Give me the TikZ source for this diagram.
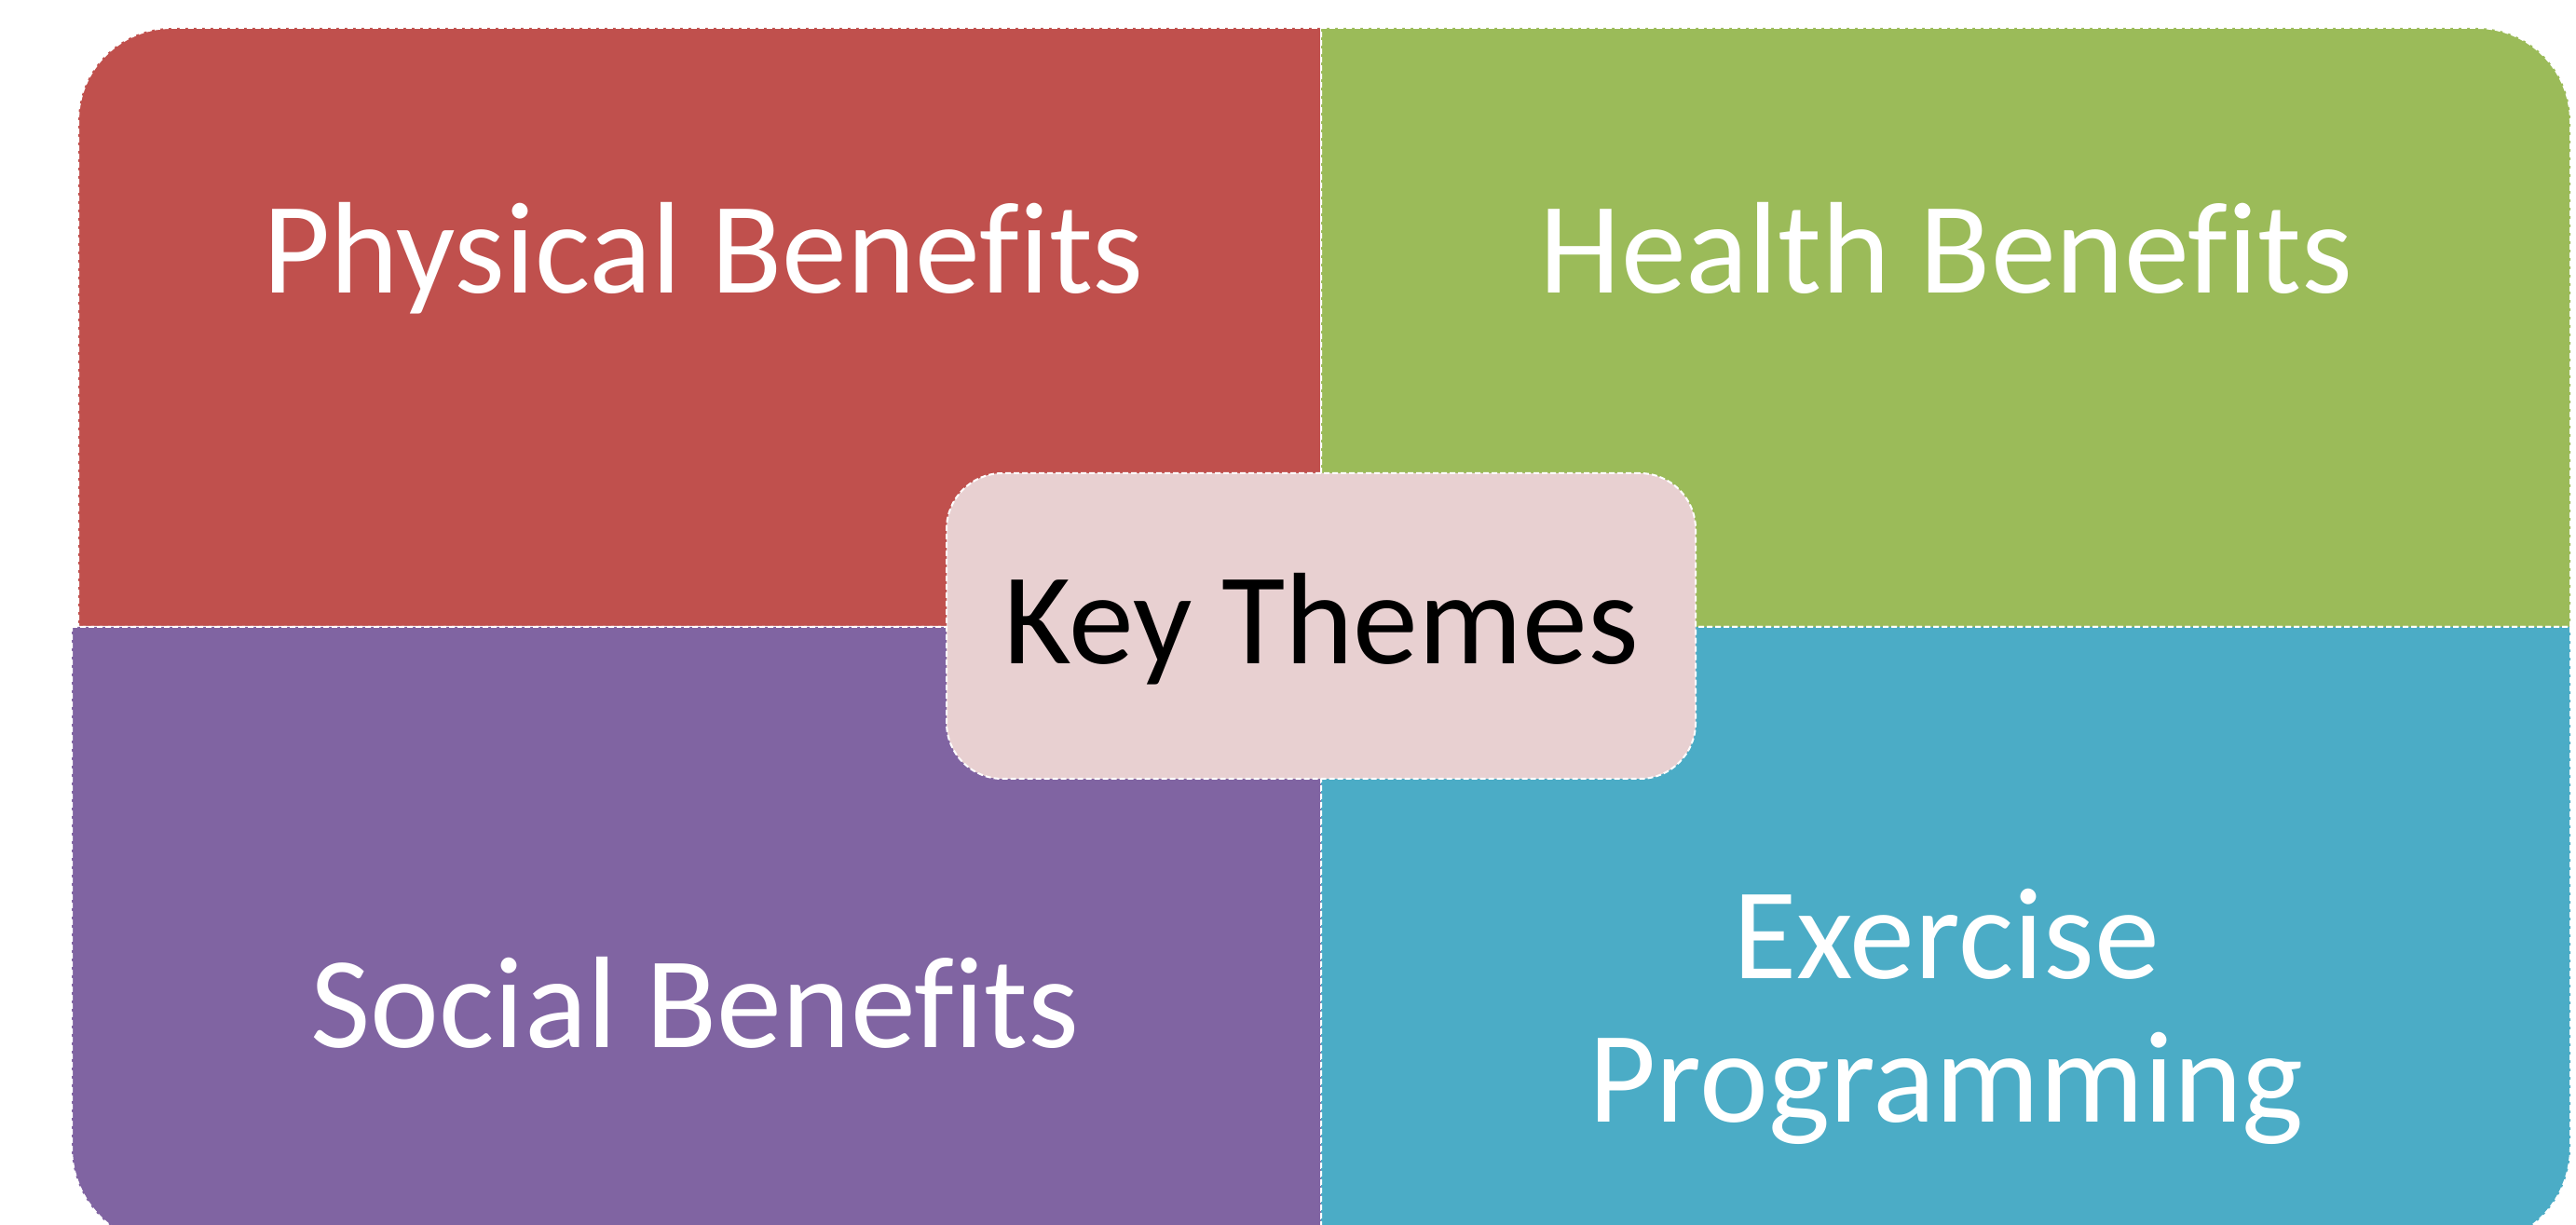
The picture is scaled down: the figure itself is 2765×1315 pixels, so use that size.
\documentclass[tikz,border=0pt]{standalone}
\usepackage{fontspec}
\setmainfont{Carlito}[Ligatures=NoCommon]
\definecolor{physred}{HTML}{C0504D}
\definecolor{healthgreen}{HTML}{9BBB59}
\definecolor{socialpurple}{HTML}{8064A2}
\definecolor{exerciseteal}{HTML}{4BACC6}
\definecolor{keypink}{HTML}{E8D0D1}
\tikzset{every picture/.style={line width=0.75pt}}
\tikzset{
quadrant/.style={draw=white, line width=0.5pt, dash pattern=on 1.5pt off 0.75pt},
quadtext/.style={text=white, font=\fontsize{35}{38.5}\selectfont, align=center, inner sep=0pt, anchor=base}}

\begin{document}
\begin{tikzpicture}[x=0.25pt,y=0.25pt,yscale=-1,xscale=1]
\useasboundingbox (0,0) rectangle (2765,1315);

%Shape: Physical quadrant
\draw [quadrant, fill=physred] (1418,673) -- (84,673) -- (84,130) .. controls (84,74.8) and (128.8,30) .. (184,30) -- (1418,30) -- cycle ;
%Shape: Health quadrant
\draw [quadrant, fill=healthgreen] (1418,30) -- (2659,30) .. controls (2714.2,30) and (2759,74.8) .. (2759,130) -- (2759,673) -- (1418,673) -- cycle ;
%Shape: Social quadrant
\draw [quadrant, fill=socialpurple] (77,673) -- (1418,673) -- (1418,1337) -- (182,1337) .. controls (124,1337) and (77,1290) .. (77,1232) -- cycle ;
%Shape: Exercise quadrant
\draw [quadrant, fill=exerciseteal] (1418,673) -- (2759,673) -- (2759,1232) .. controls (2759,1290) and (2712,1337) .. (2654,1337) -- (1418,1337) -- cycle ;

%Rounded Rect: centre
\draw (1418,672) node (keythemes) [quadrant, fill=keypink, rounded corners=15pt, minimum width=201pt, minimum height=82pt, text height=25pt, text depth=4.5pt, font=\fontsize{35}{38.5}\selectfont] {Key Themes};

% Text Node
\draw (755,315) node (physical) [quadtext] {Physical Benefits};
% Text Node
\draw (2089,315) node (health) [quadtext] {Health Benefits};
% Text Node
\draw (746,1124) node (social) [quadtext] {Social Benefits};
% Text Node
\draw (2089,1204) node (exercise) [quadtext] {Exercise\\Programming};

\end{tikzpicture}
\end{document}
